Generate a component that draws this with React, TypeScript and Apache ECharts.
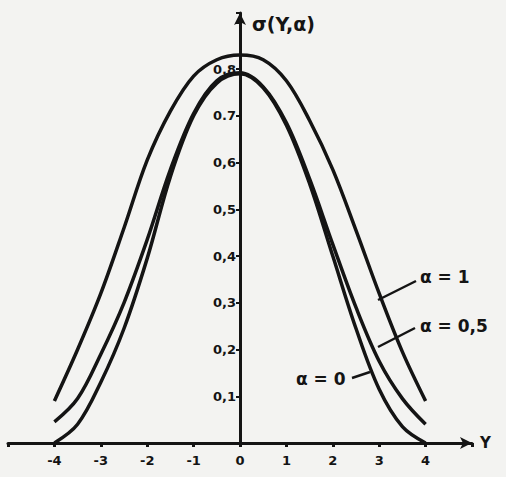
import React, { useEffect, useRef } from "react";
import * as echarts from "echarts";

const gammaValues = [-4, -3.5, -3, -2.5, -2, -1.5, -1, -0.5, 0, 0.5, 1, 1.5, 2, 2.5, 3, 3.5, 4];
const sigmaAlpha0 = [0, 0.04, 0.13, 0.245, 0.395, 0.57, 0.70, 0.77, 0.79, 0.76, 0.68, 0.555, 0.40, 0.245, 0.115, 0.035, 0];
const sigmaAlpha05 = [0.045, 0.095, 0.19, 0.30, 0.435, 0.585, 0.705, 0.775, 0.792, 0.762, 0.685, 0.565, 0.425, 0.29, 0.175, 0.095, 0.04];
const sigmaAlpha1 = [0.09, 0.2, 0.32, 0.46, 0.605, 0.71, 0.785, 0.82, 0.83, 0.82, 0.775, 0.69, 0.585, 0.455, 0.32, 0.195, 0.09];
const xTickLabels = ["-4", "-3", "-2", "-1", "0", "1", "2", "3", "4"];
const yTickLabels = ["0,1", "0,2", "0,3", "0,4", "0,5", "0,6", "0.7", "0.8"];
const seriesNames = ["α = 0", "α = 0,5", "α = 1"];

const INK = "#141414";
const FONT = "DejaVu Sans";
const GRID_LEFT = 8;
const GRID_RIGHT = 34;
const CHART_W = 506;

export default function App() {
  const ref = useRef<HTMLDivElement>(null);
  useEffect(() => {
    if (!ref.current) return;
    const chart = echarts.init(ref.current, undefined, { renderer: "svg" });
    const toData = (arr: number[]) => gammaValues.map((x, i) => [x, arr[i]]);
    const curve = (name: string, arr: number[]) => ({
      name,
      type: "line",
      data: toData(arr),
      smooth: 0.35,
      showSymbol: false,
      lineStyle: { color: INK, width: 3.5 },
      itemStyle: { color: INK },
      z: 3,
    });
    const plotW = CHART_W - GRID_LEFT - GRID_RIGHT;
    const labelFont = `bold 17px "${FONT}"`;
    chart.setOption({
      animation: false,
      backgroundColor: "#f3f3f1",
      grid: {
        left: GRID_LEFT,
        right: GRID_RIGHT,
        top: 13,
        bottom: 34,
        containLabel: false,
        outerBoundsMode: "none",
      },
      xAxis: {
        type: "value",
        min: -5,
        max: 5,
        interval: 1,
        name: "Y",
        nameLocation: "end",
        nameGap: 8,
        nameTextStyle: { color: INK, fontFamily: FONT, fontWeight: "bold", fontSize: 15 },
        axisLine: {
          onZero: true,
          symbol: ["none", "arrow"],
          symbolSize: [9, 12],
          lineStyle: { color: INK, width: 3 },
        },
        axisTick: { show: true, length: 4, lineStyle: { color: INK, width: 3 } },
        splitLine: { show: false },
        axisLabel: {
          color: INK,
          fontFamily: FONT,
          fontWeight: "bold",
          fontSize: 13,
          margin: 11,
          formatter: (v: number) => {
            const idx = Math.round(v) + 4;
            return Math.abs(v) <= 4 ? xTickLabels[idx] : "";
          },
        },
      },
      yAxis: {
        type: "value",
        min: 0,
        max: 0.92,
        interval: 0.1,
        offset: -plotW / 2,
        axisLine: {
          onZero: false,
          symbol: ["none", "arrow"],
          symbolSize: [9, 12],
          lineStyle: { color: INK, width: 3 },
        },
        axisTick: { show: true, length: 4, lineStyle: { color: INK, width: 2 } },
        splitLine: { show: false },
        axisLabel: {
          color: INK,
          fontFamily: FONT,
          fontWeight: "bold",
          fontSize: 13,
          margin: 4,
          formatter: (v: number) => {
            const idx = Math.round(v * 10) - 1;
            return idx >= 0 && idx < yTickLabels.length ? yTickLabels[idx] : "";
          },
        },
      },
      series: [
        curve(seriesNames[0], sigmaAlpha0),
        curve(seriesNames[1], sigmaAlpha05),
        curve(seriesNames[2], sigmaAlpha1),
      ],
      graphic: [
        {
          type: "text",
          left: 252,
          top: 14,
          style: { text: "σ(Y,α)", fill: INK, font: `bold 19px "${FONT}"` },
        },
        { type: "line", shape: { x1: 378, y1: 300, x2: 416, y2: 281 }, style: { stroke: INK, lineWidth: 2.5 } },
        { type: "text", left: 420, top: 268, style: { text: seriesNames[2], fill: INK, font: labelFont } },
        { type: "line", shape: { x1: 378, y1: 347, x2: 415, y2: 328 }, style: { stroke: INK, lineWidth: 2.5 } },
        { type: "text", left: 420, top: 317, style: { text: seriesNames[1], fill: INK, font: labelFont } },
        { type: "line", shape: { x1: 352, y1: 378, x2: 370, y2: 372 }, style: { stroke: INK, lineWidth: 2.5 } },
        { type: "text", left: 296, top: 370, style: { text: seriesNames[0], fill: INK, font: labelFont } },
      ],
    });
    return () => chart.dispose();
  }, []);
  return (
    <div
      ref={ref}
      style={{ position: "absolute", left: 0, top: 0, width: 506, height: 477 }}
    />
  );
}
